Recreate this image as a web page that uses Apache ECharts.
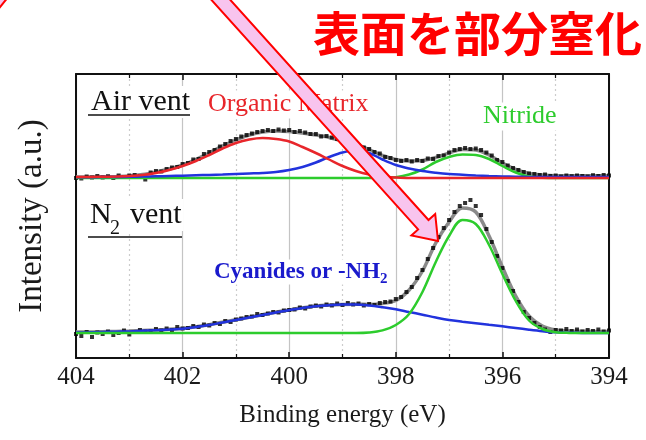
<!DOCTYPE html>
<html><head><meta charset="utf-8">
<script src="https://cdn.jsdelivr.net/npm/echarts@6/dist/echarts.min.js"></script>
<style>html,body{margin:0;padding:0;background:#fff}#c{width:646px;height:440px}</style>
</head><body><div id="c"></div>
<script>
// Binding energy grids (eV)
const energyFit = [404,403.75,403.5,403.25,403,402.75,402.5,402.25,402,401.75,401.5,401.25,401,400.75,400.5,400.25,400,399.75,399.5,399.25,399,398.75,398.5,398.25,398,397.75,397.5,397.25,397,396.75,396.5,396.25,396,395.75,395.5,395.25,395,394.75,394.5,394.25,394];
const energyData = [404.0,403.9,403.8,403.7,403.6,403.5,403.4,403.3,403.2,403.1,403.0,402.9,402.8,402.7,402.6,402.5,402.4,402.3,402.2,402.1,402.0,401.9,401.8,401.7,401.6,401.5,401.4,401.3,401.2,401.1,401.0,400.9,400.8,400.7,400.6,400.5,400.4,400.3,400.2,400.1,400.0,399.9,399.8,399.7,399.6,399.5,399.4,399.3,399.2,399.1,399.0,398.9,398.8,398.7,398.6,398.5,398.4,398.3,398.2,398.1,398.0,397.9,397.8,397.7,397.6,397.5,397.4,397.3,397.2,397.1,397.0,396.9,396.8,396.7,396.6,396.5,396.4,396.3,396.2,396.1,396.0,395.9,395.8,395.7,395.6,395.5,395.4,395.3,395.2,395.1,395.0,394.9,394.8,394.7,394.6,394.5,394.4,394.3,394.2,394.1,394.0];

// Air vent spectrum (intensity above its own baseline, a.u.)
const airOrganic = [1,1,1.2,1.5,2,3,5,8,12,17,23,29.5,35,38.5,40,39,36.5,31,25,18.5,12,7,3.5,1.5,0.5,0,0,0,0,0,0,0,0,0,0,0,0,0,0,0,0];
const airCyanide = [0.8,0.8,0.9,1,1.2,1.4,1.7,2,2.3,2.7,3.1,3.5,4,4.5,5,6,8,11,15.5,21,25.5,27.5,25,18.5,13,9.5,7,5.3,4,3.2,2.5,2,1.6,1.3,1.1,1,1,1,1,1,1];
const airNitride = [0,0,0,0,0,0,0,0,0,0,0,0,0,0,0,0,0,0,0,0,0,0,0,0,0.8,3.5,8.5,16,21,23.5,23,19,12,5.5,1.5,0.3,0,0,0,0,0];
const airFit = [1,1,1.2,1.5,2,3.5,6,9,13,18.5,25,32,38,43,46,47,46.5,45,43,40.5,37,33.5,28.5,22.5,18.5,17,17.5,20.5,25,28.5,28,23,15,8.5,4.5,3,2.3,2.2,2.2,2.2,2.2];
const airData = [0,-0.5,1.5,0.5,2,0.5,1.8,0,2.5,1,
  2.5,3,2,-1.5,5.5,7,6.5,9,10.5,11,
  14,15,18.5,19,24,26,28,31.5,34,37,
  39,41.5,43,44.5,46,47,48,47,48.5,47.5,
  48,46,47,45.5,44,44,41.5,42,40.5,39,
  37.5,36.5,34.5,33,30.5,29,26,24.5,21,20,
  18,17,18,16.5,18,17,19.5,19,22,22.5,
  25.5,28,29,30,29,29.5,28,25.5,22.5,18,
  16,12.5,10,8,6,4.5,4,3,3.5,2,
  2.5,1.5,2.5,1.8,2.5,2,1.5,2.8,2,3,2.5];

// N2 vent spectrum
const n2Cyanide = [0.5,0.7,1,1.3,1.6,2.2,2.8,3.4,4.2,6,8,10.5,13,15.5,18,20.5,22.8,25,26.7,27.8,28.4,28.5,27.5,25.8,23.8,21,18.3,15.5,13,11.3,9.8,8.2,6.7,5,3.3,1.8,0.7,0.3,0.1,0,0];
const n2Nitride = [0,0,0,0,0,0,0,0,0,0,0,0,0,0,0,0,0,0,0,0,0,0,0.5,2.6,8,19,41,71,97,113,109,88,59,32,12.5,4,0.8,0.1,0,0,0];
const n2Fit = [1,1,1.3,1.6,2,2.5,3,3.7,4.5,6.3,8.3,10.8,13.3,15.8,18.3,20.8,23,25.2,27,28,28.6,28.8,28.5,29.5,32.5,43,62,90,111,125,121,97,66,37,17,7,3,2,1.7,1.5,1.5];
const n2Data = [-1,-3,1,-4,0.5,-1,1.5,-2,0,2.5,
  -1.5,1,3,1.5,2,4,2.5,4.5,3,6,
  4.5,5,7,6,8.5,7.5,10,9,12,11,
  13.5,14.5,16,16.5,19,18,19.5,21,20.5,22.5,
  23,23.5,25.5,24.5,26.5,27.5,26.5,28.5,27.5,29.5,
  28,30,28.5,29.5,27.5,29,28,30,31,31.5,
  34,36,41,46,55,63,74,85,96,105,
  113,121,127,130,133,127,118,104,91,77,
  65,52,42,31,21,15,10,6,3.5,1,
  3,2.5,4,2,3.5,1.5,3,2,3.5,1.5,2.5];

// vertical offsets of the stacked spectra
const AIR_OFFSET = 180;
const N2_OFFSET = 25;

const xMin = 394, xMax = 404, xStep = 2;
const SERIF = "'Liberation Serif','Times New Roman',serif";
const RED = '#e8262b', BLUE = '#2233dd', GREEN = '#2dcc2d', GRAY = '#8a8a8a';

function pairs(xs, ys, off) { return xs.map((x, i) => [x, ys[i] + off]); }

function lineSeries(ys, off, color, width, z) {
  return { type: 'line', data: pairs(energyFit, ys, off), smooth: 0.35, showSymbol: false,
    lineStyle: { color: color, width: width }, z: z, silent: true };
}
function dotSeries(ys, off) {
  return { type: 'scatter', data: pairs(energyData, ys, off), symbol: 'rect', symbolSize: 4,
    itemStyle: { color: '#000' }, z: 4, silent: true };
}

const baseX = {
  type: 'value', min: xMin, max: xMax, interval: xStep, inverse: true,
  axisLine: { show: true, onZero: false, lineStyle: { color: '#111', width: 2 } },
  axisTick: { show: true, inside: true, length: 6, lineStyle: { color: '#111', width: 1.5 } },
  minorTick: { show: true, splitNumber: 2, length: 4, lineStyle: { color: '#111', width: 1.2 } }
};

const chart = echarts.init(document.getElementById('c'), null, { renderer: 'canvas' });
chart.setOption({
  animation: false,
  backgroundColor: '#fff',
  grid: { left: 76, right: 37, top: 74, bottom: 82 },
  xAxis: [
    Object.assign({}, baseX, {
      position: 'bottom',
      axisLabel: { show: true, fontFamily: SERIF, fontSize: 25, color: '#1a1a1a', margin: 7 },
      splitLine: { show: true, lineStyle: { color: '#c4c4c4', width: 1.2 } },
      minorSplitLine: { show: true, lineStyle: { color: '#cccccc', width: 1.2, type: [2, 3] } },
      name: 'Binding energy (eV)', nameLocation: 'middle', nameGap: 45,
      nameTextStyle: { fontFamily: SERIF, fontSize: 25, color: '#1a1a1a' }
    }),
    Object.assign({}, baseX, {
      position: 'top', axisLabel: { show: false }, splitLine: { show: false }, minorSplitLine: { show: false }
    })
  ],
  yAxis: [
    { type: 'value', min: 0, max: 284, position: 'left',
      axisLine: { show: true, onZero: false, lineStyle: { color: '#111', width: 2 } },
      axisTick: { show: false }, axisLabel: { show: false }, splitLine: { show: false },
      name: 'Intensity (a.u.)', nameLocation: 'middle', nameGap: 27,
      nameTextStyle: { fontFamily: SERIF, fontSize: 33, color: '#1a1a1a' } },
    { type: 'value', min: 0, max: 284, position: 'right',
      axisLine: { show: true, onZero: false, lineStyle: { color: '#111', width: 2 } },
      axisTick: { show: false }, axisLabel: { show: false }, splitLine: { show: false } }
  ],
  series: [
    lineSeries(airFit, AIR_OFFSET, GRAY, 3.5, 3),
    lineSeries(n2Fit, N2_OFFSET, GRAY, 3.5, 3),
    dotSeries(airData, AIR_OFFSET),
    dotSeries(n2Data, N2_OFFSET),
    lineSeries(airNitride, AIR_OFFSET, GREEN, 2.5, 5),
    lineSeries(airCyanide, AIR_OFFSET, BLUE, 2.5, 6),
    lineSeries(airOrganic, AIR_OFFSET, RED, 2.5, 7),
    lineSeries(n2Cyanide, N2_OFFSET, BLUE, 2.5, 6),
    lineSeries(n2Nitride, N2_OFFSET, GREEN, 2.5, 7)
  ],
  graphic: [
    { type: 'text', x: 88, y: 102, z: 1, style: { text: 'Air vent', font: '30px ' + SERIF, fill: '#111', align: 'left', verticalAlign: 'middle', backgroundColor: '#fff', padding: [1, 3] } },
    { type: 'line', z: 1, shape: { x1: 88, y1: 115, x2: 190, y2: 115 }, style: { stroke: '#111', lineWidth: 1.5 } },
    { type: 'text', x: 205, y: 104.5, z: 1, style: { text: 'Organic Matrix', font: '26px ' + SERIF, fill: RED, align: 'left', verticalAlign: 'middle', backgroundColor: '#fff', padding: [1, 3] } },
    { type: 'text', x: 480, y: 116.5, z: 1, style: { text: 'Nitride', font: '26px ' + SERIF, fill: GREEN, align: 'left', verticalAlign: 'middle', backgroundColor: '#fff', padding: [1, 3] } },
    { type: 'text', x: 88, y: 215, z: 1, style: { text: 'N', font: '30px ' + SERIF, fill: '#111', align: 'left', verticalAlign: 'middle', backgroundColor: '#fff', padding: [1, 2] } },
    { type: 'text', x: 110, y: 229, z: 1, style: { text: '2', font: '20px ' + SERIF, fill: '#111', align: 'left', verticalAlign: 'middle' } },
    { type: 'text', x: 128, y: 215, z: 1, style: { text: 'vent', font: '30px ' + SERIF, fill: '#111', align: 'left', verticalAlign: 'middle', backgroundColor: '#fff', padding: [1, 2] } },
    { type: 'line', z: 1, shape: { x1: 88, y1: 237, x2: 182, y2: 237 }, style: { stroke: '#111', lineWidth: 1.5 } },
    { type: 'text', x: 212, y: 272, z: 1, style: { text: 'Cyanides or -NH', font: 'bold 23px ' + SERIF, fill: '#1a1acc', align: 'left', verticalAlign: 'middle', backgroundColor: '#fff', padding: [1, 2] } },
    { type: 'text', x: 380, y: 279, z: 1, style: { text: '2', font: 'bold 15px ' + SERIF, fill: '#1a1acc', align: 'left', verticalAlign: 'middle' } },
    { type: 'text', x: 313, y: 33, z: 50, style: { text: '表面を部分窒化', font: "bold 47px 'Noto Sans CJK JP'", fill: '#ff0000', align: 'left', verticalAlign: 'middle' } },
    { type: 'polygon', z: 100, shape: { points: [[207.7,-25.2],[428.5,220.0],[435.2,214.0],[438,241],[411.4,235.4],[418.1,229.4],[197.3,-15.8]] },
      style: { fill: '#f8c4ee', stroke: '#ff0000', lineWidth: 2 } },
    { type: 'polygon', z: 100, shape: { points: [[-4,-4],[9,-4],[-4,12]] },
      style: { fill: '#f8c4ee', stroke: '#ff0000', lineWidth: 2 } }
  ]
});
</script>
</body></html>
